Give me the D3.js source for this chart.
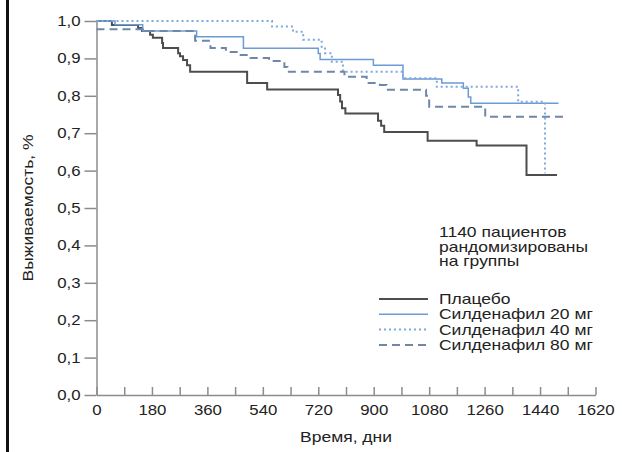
<!DOCTYPE html>
<html>
<head>
<meta charset="utf-8">
<script src="https://cdn.jsdelivr.net/npm/d3@7"></script>
<style>
  body { margin: 0; background: #fff; }
  text { font-family: "Liberation Sans", Arial, sans-serif; fill: #222; }
</style>
</head>
<body>
<script>
// survival curves (days, survival share)
var placeboDays = [0, 50, 135, 148, 174, 183, 213, 216, 265, 271, 281, 294, 304, 489, 554, 784, 791, 797, 808, 914, 924, 934, 1075, 1234, 1396, 1495];
var placeboSurv = [1.0, 0.989, 0.981, 0.973, 0.963, 0.955, 0.941, 0.928, 0.914, 0.906, 0.896, 0.882, 0.864, 0.834, 0.817, 0.802, 0.785, 0.767, 0.753, 0.733, 0.72, 0.703, 0.68, 0.667, 0.588, 0.588];

var sil20Days = [0, 60, 150, 325, 477, 720, 726, 899, 995, 1121, 1191, 1207, 1215, 1500];
var sil20Surv = [1.0, 0.99, 0.973, 0.958, 0.927, 0.913, 0.897, 0.882, 0.845, 0.834, 0.82, 0.797, 0.78, 0.78];

var sil40Days = [0, 570, 638, 671, 731, 742, 764, 800, 995, 1105, 1369, 1456];
var sil40Surv = [1.0, 0.985, 0.971, 0.95, 0.931, 0.914, 0.891, 0.864, 0.847, 0.824, 0.784, 0.593];

var sil80Days = [0, 150, 320, 370, 420, 460, 500, 560, 610, 620, 805, 877, 920, 942, 1070, 1080, 1262, 1527];
var sil80Surv = [0.978, 0.973, 0.947, 0.928, 0.917, 0.909, 0.901, 0.893, 0.877, 0.864, 0.851, 0.834, 0.829, 0.816, 0.8, 0.771, 0.744, 0.744];

var seriesNames = ["Плацебо", "Силденафил 20 мг", "Силденафил 40 мг", "Силденафил 80 мг"];
var yTicks = [0, 0.1, 0.2, 0.3, 0.4, 0.5, 0.6, 0.7, 0.8, 0.9, 1.0];
var xTicks = d3.range(0, 1621, 90);
var noteLines = ["1140 пациентов", "рандомизированы", "на группы"];

var totalWidth = 622, totalHeight = 452;
var margin = {left: 96.5, right: 26.5, top: 21, bottom: 57};
// the source type is set wide, so texts get stretched along their line
var wide = 1.25;

var svg = d3.select("body").append("svg")
  .attr("width", totalWidth)
  .attr("height", totalHeight);

// black frame edge on the left
svg.append("rect")
  .attr("x", 6).attr("y", 0)
  .attr("width", 3).attr("height", totalHeight)
  .attr("fill", "#111");

var xScale = d3.scaleLinear()
  .domain([0, 1620])
  .range([margin.left, totalWidth - margin.right]);

var yScale = d3.scaleLinear()
  .domain([0, 1])
  .range([totalHeight - margin.bottom, margin.top]);

var commaFmt = function(d) { return d3.format(".1f")(d).replace(".", ","); };

var yAxis = d3.axisLeft(yScale)
  .tickValues(yTicks)
  .tickSizeInner(12)
  .tickSizeOuter(0)
  .tickPadding(4)
  .tickFormat(commaFmt);

var xAxis = d3.axisBottom(xScale)
  .tickValues(xTicks)
  .tickSizeInner(-8)
  .tickSizeOuter(0)
  .tickPadding(10)
  .tickFormat(function(d) { return d % 180 === 0 ? d : ""; });

var gx = svg.append("g")
  .attr("transform", "translate(0," + yScale(0) + ")")
  .call(xAxis);

var gy = svg.append("g")
  .attr("transform", "translate(" + margin.left + ",0)")
  .call(yAxis);

[gx, gy].forEach(function(g) {
  g.selectAll("path, line").attr("stroke", "#8c8c8c").attr("stroke-width", 1.5);
  g.selectAll("text")
    .attr("font-size", 14)
    .attr("fill", "#222")
    .attr("font-family", "'Liberation Sans', Arial, sans-serif")
    .each(function() {
      var t = d3.select(this);
      var tx = +t.attr("x") || 0, ty = +t.attr("y") || 0;
      t.attr("transform", "translate(" + tx + "," + ty + ") scale(1.2,1)")
        .attr("x", 0).attr("y", 0);
    });
});

// axis titles
svg.append("text")
  .attr("transform", "translate(33," + yScale(0.5) + ") rotate(-90) scale(" + wide + ",1)")
  .attr("text-anchor", "middle")
  .attr("font-size", 14)
  .text("Выживаемость, %");

svg.append("text")
  .attr("transform", "translate(" + xScale(810) + ",442) scale(" + wide + ",1)")
  .attr("text-anchor", "middle")
  .attr("font-size", 14)
  .text("Время, дни");

// curves
var styles = [
  {color: "#4d4d4d", width: 2, dash: null},
  {color: "#6c9bd6", width: 1.5, dash: null},
  {color: "#7ea8de", width: 2, dash: "2,3"},
  {color: "#6f87a8", width: 2, dash: "8,5"}
];

var curves = [
  d3.zip(placeboDays, placeboSurv),
  d3.zip(sil20Days, sil20Surv),
  d3.zip(sil40Days, sil40Surv),
  d3.zip(sil80Days, sil80Surv)
];

var line = d3.line()
  .x(function(d) { return xScale(d[0]); })
  .y(function(d) { return yScale(d[1]); })
  .curve(d3.curveStepAfter);

svg.append("g")
  .selectAll("path")
  .data(curves)
  .enter().append("path")
  .attr("d", line)
  .attr("fill", "none")
  .attr("stroke", function(d, i) { return styles[i].color; })
  .attr("stroke-width", function(d, i) { return styles[i].width; })
  .attr("stroke-dasharray", function(d, i) { return styles[i].dash; });

// note
svg.append("g")
  .selectAll("text")
  .data(noteLines)
  .enter().append("text")
  .attr("transform", function(d, i) { return "translate(439," + (237 + i * 14.5) + ") scale(" + wide + ",1)"; })
  .attr("font-size", 14)
  .text(function(d) { return d; });

// legend
var legend = svg.append("g")
  .selectAll("g")
  .data(seriesNames)
  .enter().append("g")
  .attr("transform", function(d, i) { return "translate(0," + (299 + i * 15.3) + ")"; });

legend.append("line")
  .attr("x1", 379).attr("x2", 428)
  .attr("y1", 0).attr("y2", 0)
  .attr("stroke", function(d, i) { return styles[i].color; })
  .attr("stroke-width", function(d, i) { return styles[i].width; })
  .attr("stroke-dasharray", function(d, i) { return styles[i].dash; });

legend.append("text")
  .attr("transform", "translate(439,5) scale(" + wide + ",1)")
  .attr("font-size", 14)
  .text(function(d) { return d; });
</script>
</body>
</html>
